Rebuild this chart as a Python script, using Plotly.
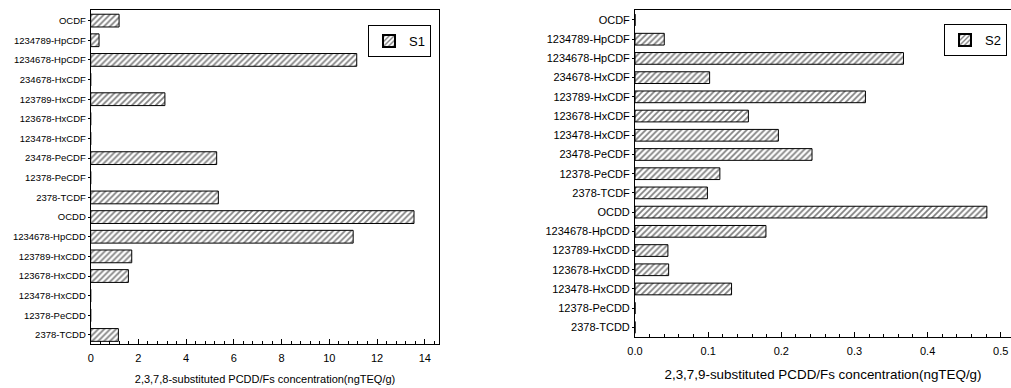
import plotly.graph_objects as go

# Categories, listed top to bottom as shown
categories = ["OCDF", "1234789-HpCDF", "1234678-HpCDF", "234678-HxCDF", "123789-HxCDF",
              "123678-HxCDF", "123478-HxCDF", "23478-PeCDF", "12378-PeCDF", "2378-TCDF",
              "OCDD", "1234678-HpCDD", "123789-HxCDD", "123678-HxCDD", "123478-HxCDD",
              "12378-PeCDD", "2378-TCDD"]

s1_values = [1.19, 0.35, 11.15, 0.0, 3.11, 0.0, 0.0, 5.28, 0.0, 5.35,
             13.55, 11.0, 1.72, 1.58, 0.0, 0.0, 1.16]
s2_values = [0.0, 0.040, 0.367, 0.102, 0.315, 0.155, 0.196, 0.242, 0.116, 0.099,
             0.481, 0.179, 0.045, 0.046, 0.132, 0.0, 0.0]

s1_name = "S1"
s2_name = "S2"
x1_title = "2,3,7,8-substituted PCDD/Fs concentration(ngTEQ/g)"
x2_title = "2,3,7,9-substituted PCDD/Fs concentration(ngTEQ/g)"

W, H = 1011, 388
sans = "Liberation Sans, Arial, sans-serif"

pattern = dict(shape="/", fgcolor="black", bgcolor="white", size=4.2, solidity=0.4)

fig = go.Figure()
fig.add_trace(go.Bar(
    x=s1_values, y=categories, orientation="h", name=s1_name,
    marker=dict(color="white", line=dict(color="black", width=1), pattern=pattern),
    width=0.65, xaxis="x", yaxis="y", legend="legend"))
fig.add_trace(go.Bar(
    x=s2_values, y=categories, orientation="h", name=s2_name,
    marker=dict(color="white", line=dict(color="black", width=1), pattern=pattern),
    width=0.61, xaxis="x2", yaxis="y2", legend="legend2"))

cat_order = list(reversed(categories))

def px_x(v):
    return min(1.0, v / W)

def px_y(v):
    return 1 - v / H

fig.update_layout(
    width=W, height=H,
    margin=dict(l=0, r=0, t=0, b=0, autoexpand=False),
    paper_bgcolor="white", plot_bgcolor="white",
    barmode="overlay",
    xaxis=dict(domain=[px_x(90.7), px_x(439.3)], anchor="y", range=[0, 14.61], automargin=False,
               dtick=2, tick0=0, ticks="inside", ticklen=5, tickcolor="black",
               minor=dict(dtick=0.4, ticks="inside", ticklen=3, tickcolor="black"),
               showline=True, linecolor="black", linewidth=1, mirror=True,
               showgrid=False, zeroline=False, ticklabelstandoff=4,
               tickfont=dict(family=sans, size=11, color="black"),
               title=dict(text=x1_title, font=dict(family=sans, size=11, color="black"), standoff=12)),
    yaxis=dict(domain=[px_y(344), px_y(10)], anchor="x", type="category", automargin=False,
               categoryorder="array", categoryarray=cat_order, range=[-0.46, 16.54],
               ticks="outside", ticklen=2, tickcolor="black",
               showline=True, linecolor="black", linewidth=1, mirror=True,
               showgrid=False, zeroline=False,
               tickfont=dict(family=sans, size=9.5, color="black")),
    xaxis2=dict(domain=[px_x(635), 1.0], anchor="y2", range=[0, 0.514], automargin=False,
                dtick=0.1, tick0=0, tickformat=".1f", ticks="inside", ticklen=5, tickcolor="black",
                minor=dict(dtick=0.02, ticks="inside", ticklen=3, tickcolor="black"),
                showline=True, linecolor="black", linewidth=1, mirror=True,
                showgrid=False, zeroline=False, ticklabelstandoff=4,
                tickfont=dict(family=sans, size=11, color="black"),
                title=dict(text=x2_title, font=dict(family=sans, size=13.4, color="black"), standoff=13)),
    yaxis2=dict(domain=[px_y(337), px_y(10)], anchor="x2", type="category", automargin=False,
                categoryorder="array", categoryarray=cat_order, range=[-0.5, 16.52],
                ticks="outside", ticklen=2, tickcolor="black",
                showline=True, linecolor="black", linewidth=1, mirror=False,
                showgrid=False, zeroline=False,
                tickfont=dict(family=sans, size=11, color="black")),
    legend=dict(x=px_x(431), y=px_y(25), xanchor="right", yanchor="top",
                bordercolor="black", borderwidth=1, bgcolor="white",
                font=dict(family=sans, size=13, color="black"),
                itemsizing="constant", tracegroupgap=0),
    legend2=dict(x=px_x(1007), y=px_y(24), xanchor="right", yanchor="top",
                 bordercolor="black", borderwidth=1, bgcolor="white",
                 font=dict(family=sans, size=13, color="black"),
                 itemsizing="constant", tracegroupgap=0),
    showlegend=True,
)

# remove the browser's default 8px body margin so the figure fills the window exactly
fig.write_html("out.html",
               config={"displayModeBar": False},
               post_script="document.body.style.margin='0';document.body.style.overflow='hidden';")
